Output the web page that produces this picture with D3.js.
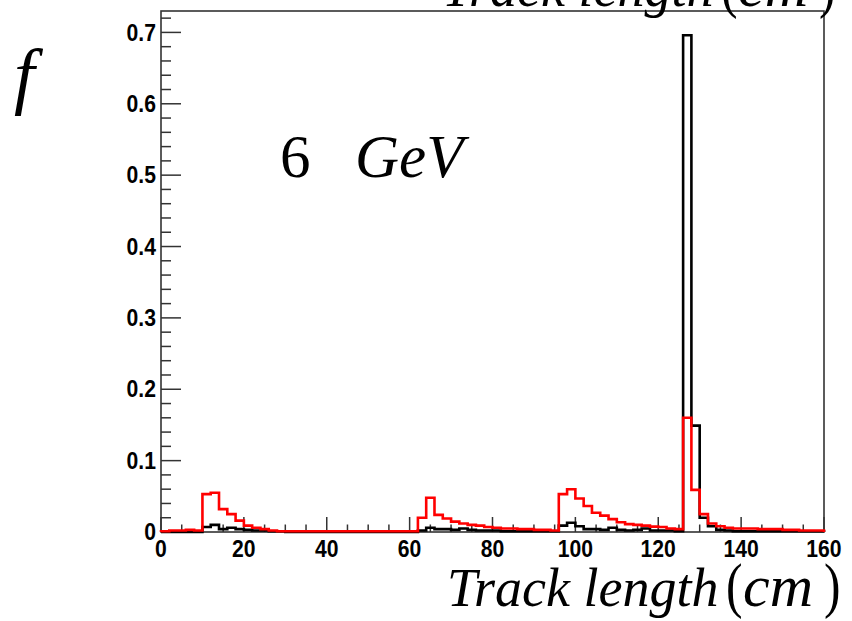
<!DOCTYPE html>
<html>
<head>
<meta charset="utf-8">
<script src="https://cdn.jsdelivr.net/npm/d3@7"></script>
<style>
  html, body { margin: 0; padding: 0; background: #fff; }
  svg { display: block; }
</style>
</head>
<body>
<svg id="chart" width="852" height="621"></svg>
<script>
// Track-length distributions at 6 GeV, 2 cm bins from 0 to 160 cm
const binEdgesStart = 0;
const binWidth = 2;
const binCount = 80;

// black histogram
const seriesBlack = [
  0, 0, 0, 0, 0,
  0.007, 0.010, 0.004, 0.006, 0.004, 0.003, 0.002, 0.002, 0.001, 0.001,
  0, 0, 0, 0, 0, 0, 0, 0, 0, 0, 0, 0, 0, 0, 0,
  0,
  0.002, 0.006, 0.004, 0.004, 0.003, 0.005, 0.003, 0.002, 0.002, 0.002, 0.001, 0.001, 0.001, 0.001, 0.001, 0.001, 0.001,
  0.009, 0.013, 0.008, 0.004, 0.004, 0.003, 0.006, 0.003, 0.002, 0.003, 0.005, 0.002, 0.002, 0.002, 0.001,
  0.696, 0.149, 0.020, 0.008, 0.003, 0.002, 0.001,
  0.001, 0.001, 0.001, 0.001, 0.001, 0.001, 0.001, 0.001, 0.001, 0.001
];

// red histogram
const seriesRed = [
  0.001, 0.002, 0.002, 0.003, 0.002,
  0.053, 0.055, 0.032, 0.025, 0.016, 0.009, 0.006, 0.004, 0.002, 0.001,
  0.001, 0.001, 0.001, 0.001, 0.001, 0.001, 0.001, 0.001, 0.001, 0.001, 0.001, 0.001, 0.001, 0.001, 0.001,
  0.001,
  0.020, 0.048, 0.024, 0.019, 0.0145, 0.012, 0.010, 0.009, 0.007, 0.006, 0.005, 0.005, 0.004, 0.004, 0.003, 0.003, 0.002,
  0.053, 0.060, 0.047, 0.0365, 0.027, 0.023, 0.018, 0.0136, 0.011, 0.010, 0.009, 0.0075, 0.007, 0.005, 0.004,
  0.160, 0.059, 0.025, 0.012, 0.008, 0.006, 0.005,
  0.005, 0.005, 0.004, 0.004, 0.004, 0.003, 0.003, 0.002, 0.002, 0.002
];

const xTickLabels = [0, 20, 40, 60, 80, 100, 120, 140, 160];
const yTickLabels = [0, 0.1, 0.2, 0.3, 0.4, 0.5, 0.6, 0.7];

const xDomain = [0, 160];
const yDomain = [0, 0.73];

const svg = d3.select("#chart");
const frame = { left: 161, right: 824, top: 11, bottom: 532 };

const x = d3.scaleLinear().domain(xDomain).range([frame.left, frame.right]);
const y = d3.scaleLinear().domain(yDomain).range([frame.bottom, frame.top]);

const axisColor = "#333";
const tickFont = "'Liberation Sans', Arial, Helvetica, sans-serif";
const serif = "'Liberation Serif', 'Times New Roman', Times, serif";

// Outline of a histogram: baseline -> bin tops -> baseline
function histPoints(values) {
  const pts = [[binEdgesStart, 0]];
  values.forEach((v, i) => {
    const x0 = binEdgesStart + i * binWidth;
    pts.push([x0, v], [x0 + binWidth, v]);
  });
  pts.push([binEdgesStart + binCount * binWidth, 0]);
  return pts;
}
const histLine = d3.line().x(d => x(d[0])).y(d => y(d[1]));

// Frame
svg.append("rect")
  .attr("x", frame.left).attr("y", frame.top)
  .attr("width", frame.right - frame.left)
  .attr("height", frame.bottom - frame.top)
  .attr("fill", "none").attr("stroke", axisColor).attr("stroke-width", 1.6);

// X ticks (inside, pointing up)
const xMinor = d3.range(xDomain[0], xDomain[1] + 0.01, 5);
svg.append("g").selectAll("line").data(xMinor).join("line")
  .attr("x1", d => x(d)).attr("x2", d => x(d))
  .attr("y1", frame.bottom)
  .attr("y2", d => frame.bottom - (d % 20 === 0 ? 15 : 7.5))
  .attr("stroke", axisColor).attr("stroke-width", 1.5);

// Y ticks (inside, pointing right)
const yMinor = d3.range(0, yDomain[1] + 1e-9, 0.02);
svg.append("g").selectAll("line").data(yMinor).join("line")
  .attr("x1", frame.left)
  .attr("x2", (d, i) => frame.left + (i % 5 === 0 ? 20 : 10))
  .attr("y1", d => y(d)).attr("y2", d => y(d))
  .attr("stroke", axisColor).attr("stroke-width", 1.5);

// Tick labels (slightly condensed bold sans)
svg.append("g").selectAll("text").data(xTickLabels).join("text")
  .attr("transform", d => `translate(${x(d)},556.5) scale(0.92,1)`)
  .attr("text-anchor", "middle")
  .attr("font-family", tickFont).attr("font-weight", "bold").attr("font-size", 23)
  .text(d => d);

svg.append("g").selectAll("text").data(yTickLabels).join("text")
  .attr("transform", d => `translate(156,${y(d) + 8.2}) scale(0.92,1)`)
  .attr("text-anchor", "end")
  .attr("font-family", tickFont).attr("font-weight", "bold").attr("font-size", 23)
  .text(d => d === 0 ? "0" : d3.format(".1f")(d));

// Histograms
svg.append("path").datum(histPoints(seriesBlack))
  .attr("d", histLine).attr("fill", "none")
  .attr("stroke", "#000").attr("stroke-width", 2.6);
svg.append("path").datum(histPoints(seriesRed))
  .attr("d", histLine).attr("fill", "none")
  .attr("stroke", "#f00").attr("stroke-width", 2.6);

// Energy label
svg.append("text").attr("x", 280).attr("y", 177)
  .attr("font-family", serif).attr("font-size", 61).text("6");
svg.append("text").attr("x", 355).attr("y", 177)
  .attr("font-family", serif).attr("font-style", "italic").attr("font-size", 61).text("GeV");

// Y axis title
svg.append("text").attr("x", 14).attr("y", 100)
  .attr("font-family", serif).attr("font-style", "italic").attr("font-size", 74).text("f");

// X axis titles (bottom, and the one clipped at the top edge)
function paren(g, px, ch) {
  g.append("text").attr("x", px).attr("y", 0).attr("font-size", 62)
    .attr("transform", `translate(${px},0) scale(0.8,1) translate(${-px},0)`).text(ch);
}
function trackTitle(dx, yBase) {
  const g = svg.append("g").attr("transform", `translate(${dx},${yBase})`)
    .attr("font-family", serif);
  g.append("text").attr("x", 447).attr("font-size", 54)
    .attr("font-style", "italic").text("Track length");
  paren(g, 726, "(");
  g.append("text").attr("x", 743).attr("font-size", 60)
    .attr("font-style", "italic").text("cm");
  paren(g, 824, ")");
}
trackTitle(0, 606);
trackTitle(-5, 6);
</script>
</body>
</html>
